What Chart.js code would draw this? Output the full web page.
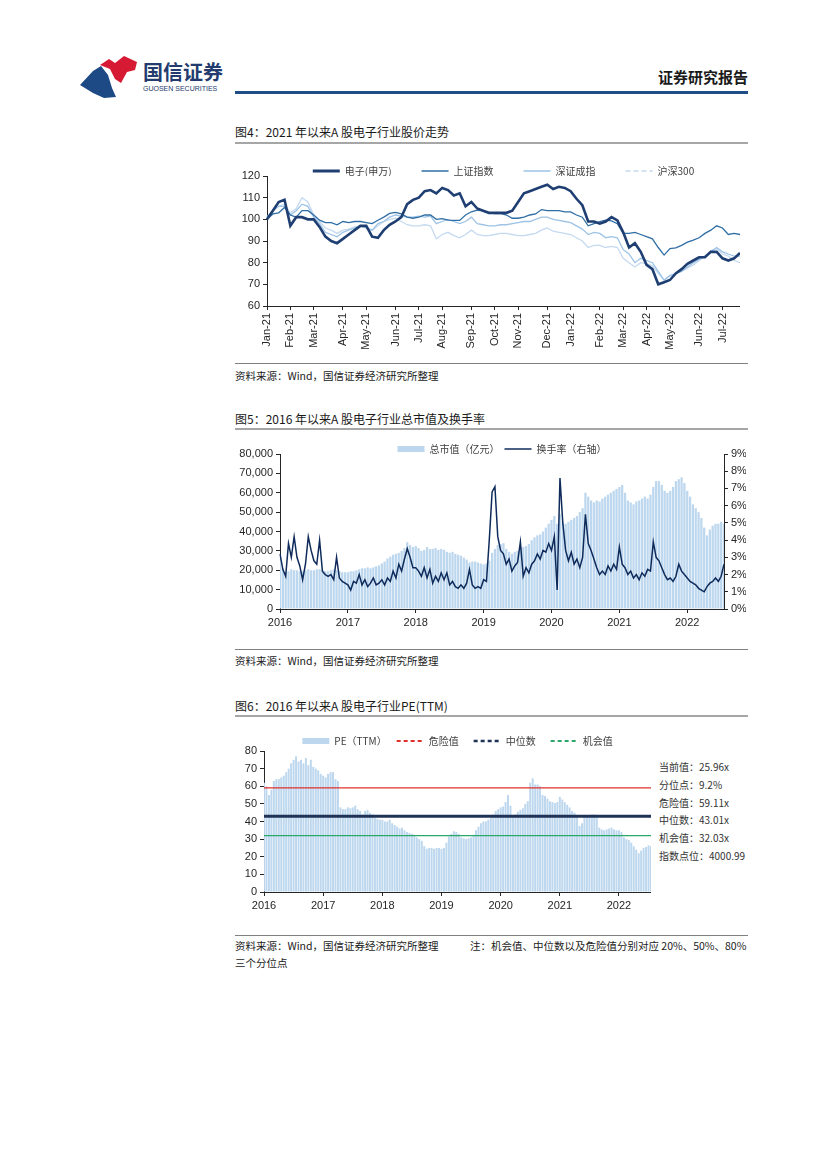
<!DOCTYPE html>
<html>
<head>
<meta charset="utf-8">
<script src="https://cdn.jsdelivr.net/npm/chart.js@4.4.0/dist/chart.umd.min.js"></script>
<style>
body { margin: 0; background: #fff; }
#page { position: relative; width: 827px; height: 1169px; overflow: hidden; background: #fff;
        font-family: "Noto Sans CJK SC", "Noto Sans", sans-serif; color: #1a1a1a; }
.title { position: absolute; left: 235px; font-size: 12px; line-height: 14px; white-space: nowrap; }
.rule { position: absolute; left: 235px; width: 513px; }
.src { position: absolute; left: 235px; font-size: 10.5px; line-height: 12px; white-space: nowrap; }
.note { position: absolute; left: 659px; font-size: 10px; line-height: 12px; color: #333; white-space: nowrap; }
canvas { position: absolute; }
</style>
</head>
<body>
<div id="page">
  <!-- header -->
  <svg style="position:absolute;left:80px;top:56px" width="58" height="42" viewBox="0 0 58 42">
    <path d="M20 9 L29 3 L35 7 L44 0 L57 6 L55 14 L47 16 L41 27 L35 23 L30 13 Z" fill="#d71a34"/>
    <path d="M0 29 L13 15 L21 10 L28 19 L32 32 L36 41 L24 42 L13 37 Z" fill="#1d4a85"/>
  </svg>
  <div style="position:absolute;left:143px;top:60px;font-size:20px;line-height:24px;font-weight:700;color:#233b6e">国信证券</div>
  <div style="position:absolute;left:143px;top:85px;font-size:7px;line-height:8px;color:#233b6e;font-family:'Liberation Sans',sans-serif">GUOSEN SECURITIES</div>
  <div style="position:absolute;right:79px;top:68px;font-size:15px;line-height:18px;font-weight:700;color:#1a1a1a">证券研究报告</div>
  <div class="rule" style="top:91px;height:3px;background:#1f4f86"></div>

  <!-- figure 4 -->
  <div class="title" style="top:125px">图4：2021 年以来A 股电子行业股价走势</div>
  <div class="rule" style="top:142px;height:2px;background:#a6a6a6"></div>
  <canvas id="c4" width="505" height="185" style="left:235px;top:166px"></canvas>
  <div class="rule" style="top:363px;height:1px;background:#808080"></div>
  <div class="src" style="top:370px">资料来源：Wind，国信证券经济研究所整理</div>

  <!-- figure 5 -->
  <div class="title" style="top:412px">图5：2016 年以来A 股电子行业总市值及换手率</div>
  <div class="rule" style="top:428px;height:2px;background:#a6a6a6"></div>
  <canvas id="c5" width="511" height="187" style="left:235px;top:444px"></canvas>
  <div class="rule" style="top:649px;height:1px;background:#808080"></div>
  <div class="src" style="top:655px">资料来源：Wind，国信证券经济研究所整理</div>

  <!-- figure 6 -->
  <div class="title" style="top:699px">图6：2016 年以来A 股电子行业PE(TTM)</div>
  <div class="rule" style="top:715px;height:2px;background:#a6a6a6"></div>
  <canvas id="c6" width="416" height="178" style="left:235px;top:736px"></canvas>
  <div id="notes"></div>
  <div class="rule" style="top:935px;height:1px;background:#808080"></div>
  <div class="src" style="top:940px">资料来源：Wind，国信证券经济研究所整理</div>
  <div class="src" style="top:940px;left:470px">注：机会值、中位数以及危险值分别对应 20%、50%、80%</div>
  <div class="src" style="top:957px">三个分位点</div>
</div>

<script>
// ---- fig 4: weekly index (2021-01-04 = 100)
const electronics = [100, 104, 108, 109, 97, 101, 101, 100, 100, 96.5, 92, 90, 89, 91, 93, 95, 97, 97, 92, 91.5,
  95, 97.5, 99, 101, 107, 109, 110, 113, 113.5, 112, 114.5, 113.5, 111, 112, 106, 108, 105, 104, 103, 103,
  103, 103, 104, 108, 112, 113, 114, 115, 116, 114, 115, 114.5, 113, 109.5, 106.5, 99, 99, 98, 99, 101,
  99.5, 94, 87, 89, 85, 79, 77, 70, 71, 72, 75, 77, 79.5, 81, 82.5, 82.5, 85, 85, 82, 81, 82, 84.5];
const shanghai = [100, 102.5, 103, 105.5, 102, 101, 104, 104, 102, 99.6, 98.5, 98.5, 97.5, 99, 98.5, 99, 99, 98.5, 98, 99.6,
  101, 102.7, 103.2, 102.5, 101, 100.5, 101, 102, 102, 100, 100.3, 99.6, 99.5, 99.5, 102, 103.5, 104.2, 104, 103, 102.7,
  102.7, 102, 100.5, 100.5, 101, 102, 102.5, 104.5, 104, 104, 104, 103.4, 103.4, 102, 101, 97, 98, 99, 99.6, 99.3,
  98, 93.5, 93.5, 94, 93, 92, 91, 87, 83.5, 86.5, 86.8, 88, 89.5, 90.4, 91.5, 93.5, 95, 97, 96, 93, 93.5, 93];
const shenzhen = [101, 104, 106, 106, 102, 104, 107, 106, 101, 98, 94, 93, 92, 94, 95, 96, 97, 96, 95, 98,
  99, 101, 102, 101.5, 101, 101, 101.5, 101, 101.5, 98, 99, 100, 99, 98, 99, 101, 98, 97.5, 97, 97,
  97.5, 97.5, 98, 98.5, 99, 99, 100, 101, 101, 100, 99.5, 99, 98.5, 97, 95.5, 93, 94, 93.5, 91.5, 92,
  91.5, 86, 84, 80, 82, 81, 80, 76, 72, 74, 75, 76, 78, 80, 81.5, 83, 85, 87, 85, 84, 83, 83];
const csi300 = [101, 104, 106, 107, 103, 105, 110, 108, 102, 99, 96, 95, 93.5, 95, 95.5, 96.5, 97, 96, 95, 97,
  99, 100, 100.5, 99, 97.5, 97, 97, 97.5, 97, 91, 93, 94, 92.5, 91.5, 93, 95, 93, 92.5, 92.5, 93,
  93.5, 93.5, 93, 92.5, 92.5, 93, 93.5, 95, 96, 94.5, 94, 93.5, 93, 91.5, 90, 87, 88, 88, 87, 87.5,
  87, 82, 80, 78, 80, 79.5, 78.5, 75, 72, 74, 75, 76, 77.5, 79, 81, 83, 85.5, 86.5, 84, 83, 81, 80];
const stockMonths = ['Jan-21', 'Feb-21', 'Mar-21', 'Apr-21', 'May-21', 'Jun-21', 'Jul-21', 'Aug-21', 'Sep-21', 'Oct-21',
  'Nov-21', 'Dec-21', 'Jan-22', 'Feb-22', 'Mar-22', 'Apr-22', 'May-22', 'Jun-22', 'Jul-22'];

// ---- fig 5: half-monthly, 2016 -> Jul 2022
const years = ['2016', '2017', '2018', '2019', '2020', '2021', '2022'];
const marketCap = [
  26000, 21000, 19000, 19500, 20500, 20000, 20000, 19500, 19500, 20000, 20500, 20000, 20000, 20500, 20500, 20000, 19500, 19500, 20000, 20500, 20000, 19500, 19000, 19000,
  19000, 19500, 19500, 20000, 20500, 21000, 21000, 21500, 21000, 21500, 22000, 22500, 23500, 24500, 26000, 27000, 28000, 28500, 29000, 30000, 31500, 34500, 33000, 32000,
  32500, 31500, 30000, 30500, 32000, 31000, 31000, 31500, 30500, 31000, 30500, 29500, 29000, 29500, 28500, 28000, 27500, 26500, 25500, 24000, 24500, 24500, 24000, 23500,
  23000, 23500, 25000, 29000, 31000, 33000, 33500, 34000, 31000, 29500, 28500, 29500, 30000, 31000, 32000, 32500, 33500, 35500, 37000, 38000, 38500, 40000, 42000, 44000,
  46000, 48000, 44000, 49000, 45000, 44000, 45000, 46000, 47000, 48000, 50000, 52000, 60000, 58000, 56000, 55000, 56000, 55500, 57000, 58000, 59000, 60000, 61000, 62000,
  63000, 64000, 60000, 56000, 55000, 54000, 55500, 56000, 57000, 58000, 57000, 59000, 63000, 66000, 66000, 64000, 61000, 60000, 61000, 63000, 66000, 67000, 68000, 65000,
  61000, 58000, 54000, 52000, 50000, 47000, 42000, 38000, 41000, 43000, 44000, 44000, 45000, 44000];
const turnover = [
  3.2, 2.3, 1.9, 3.8, 3.0, 4.2, 3.0, 2.5, 1.7, 2.6, 4.2, 3.4, 2.8, 2.6, 4.0, 2.2, 2.0, 1.9, 2.0, 1.7, 3.0, 1.8, 1.6, 1.5,
  1.4, 1.1, 1.6, 1.5, 2.0, 1.4, 1.7, 1.3, 1.5, 1.8, 1.4, 1.5, 1.7, 1.4, 1.8, 1.6, 2.2, 1.8, 2.6, 2.2, 2.9, 3.5, 3.0, 2.4,
  2.4, 2.2, 1.9, 2.4, 1.8, 2.3, 1.5, 1.9, 1.6, 2.1, 1.7, 2.1, 1.4, 1.6, 1.3, 1.2, 1.4, 1.2, 1.5, 2.3, 1.4, 1.2, 1.3, 1.2,
  1.7, 1.6, 4.0, 6.8, 7.1, 4.2, 3.4, 3.2, 2.6, 2.9, 2.2, 2.5, 2.7, 3.9, 1.9, 2.4, 2.1, 2.6, 2.8, 3.2, 2.9, 3.4, 3.3, 3.8,
  3.4, 4.2, 1.1, 7.6, 5.0, 3.4, 2.8, 3.3, 2.6, 2.9, 2.4, 3.0, 5.5, 3.8, 3.4, 2.9, 2.4, 2.0, 2.2, 2.0, 2.5, 2.2, 2.6, 2.3,
  3.6, 2.6, 2.4, 2.0, 2.2, 1.8, 2.0, 1.7, 2.1, 1.9, 2.3, 2.2, 3.9, 3.0, 2.8, 2.4, 2.0, 1.7, 1.8, 1.6, 1.9, 2.6, 2.2, 2.0,
  1.8, 1.6, 1.5, 1.4, 1.2, 1.1, 1.0, 1.3, 1.5, 1.6, 1.8, 1.6, 1.9, 2.6];

// ---- fig 6: PE(TTM), half-monthly
const peValues = [
  62, 60, 55, 58, 63, 64, 64, 65, 66, 68, 70, 73, 75, 77, 74, 75, 73, 76, 72, 75, 71, 70, 69, 67,
  66, 65, 67, 68, 68, 64, 63, 48, 47, 47, 48, 47.5, 48, 49, 47, 46, 44, 46, 46.5, 45, 44, 42, 41.5, 41,
  41, 40, 40, 41, 39, 38, 37, 36, 36.5, 35, 34, 33.5, 33, 32.5, 31, 30, 29, 26, 24.5, 25, 25, 24.5, 25, 25,
  24.5, 25, 28, 31.5, 33, 34.5, 34, 33, 31, 30.5, 30, 30.5, 31, 32.5, 35, 37, 39, 40, 40, 41, 42, 44, 46, 47,
  48, 48.5, 51, 55, 49, 43, 44, 45.5, 46.5, 47.5, 50, 51.5, 62, 64.5, 61, 61, 60, 55, 54.5, 53, 51.5, 51, 50.5, 51,
  54, 52.5, 51, 49.5, 48, 46, 45, 43.5, 37.5, 39, 43, 43.5, 43, 44, 44, 43, 36.5, 35.5, 35, 35.5, 36, 36.5, 35.5, 35,
  35, 34, 31, 30, 29.5, 28, 26, 24, 22, 23.5, 25, 25.5, 26.5, 26];
const dangerPE = 59.11;
const medianPE = 43.01;
const chancePE = 32.03;
const currentPE = 25.96;
const percentile = '9.2%';
const indexLevel = '4000.99';

// ---------- labels
const stockWeeks = [];
const start = Date.UTC(2021, 0, 4);
for (let i = 0; i < electronics.length; i++) {
  stockWeeks.push(new Date(start + i * 7 * 86400000).toISOString().slice(0, 10));
}
const monthStarts = stockWeeks
  .map((w, i) => (i === 0 || w.slice(0, 7) !== stockWeeks[i - 1].slice(0, 7)) ? i : -1)
  .filter(i => i >= 0);

const periods = [];
years.forEach(y => {
  for (let m = 1; m <= 12; m++) {
    const mm = String(m).padStart(2, '0');
    periods.push(y + '-' + mm + 'a', y + '-' + mm + 'b');
  }
});
const capLabels = periods.slice(0, marketCap.length);
const peLabels = periods.slice(0, peValues.length);
const yearStarts = capLabels.map((p, i) => p.endsWith('-01a') ? i : -1).filter(i => i >= 0);

// ---------- shared styling
const cjk = '"Noto Sans CJK SC", "Noto Sans", sans-serif';
const tickFont = { family: '"Liberation Sans", Arial, sans-serif', size: 11 };
const ink = '#262626';
const barBlue = '#bdd7ee';
const navy = '#0f2b5b';

const axis = (extra) => Object.assign({
  border: { display: true, color: ink, width: 1 },
  grid: { display: true, drawOnChartArea: false, drawTicks: true, tickLength: 4, color: ink, offset: false },
}, extra);

const legendOpts = (styles, gap, maxHeight) => ({
  position: 'top',
  fullSize: false,
  maxHeight: maxHeight,
  labels: {
    usePointStyle: true,
    pointStyleWidth: 27,
    boxHeight: 6,
    padding: 0,
    color: '#404040',
    font: { family: cjk, size: 10 },
    generateLabels: chart => Chart.defaults.plugins.legend.labels.generateLabels(chart)
      .sort((a, b) => a.datasetIndex - b.datasetIndex)
      .map((item, i, arr) => Object.assign(item, styles[i], { text: item.text + (i < arr.length - 1 ? gap : '') }))
  }
});

const base = {
  responsive: false,
  animation: false,
  devicePixelRatio: 1,
  layout: { padding: 0 },
  elements: { point: { radius: 0 }, line: { tension: 0 } },
};

// ---------- fig 4
new Chart(document.getElementById('c4'), {
  type: 'line',
  data: {
    labels: stockWeeks,
    datasets: [
      { label: '电子(申万)', data: electronics, borderColor: '#1f3f73', borderWidth: 2.6 },
      { label: '上证指数', data: shanghai, borderColor: '#2f6ea5', borderWidth: 1.3 },
      { label: '深证成指', data: shenzhen, borderColor: '#9dc3e6', borderWidth: 1.3 },
      { label: '沪深300', data: csi300, borderColor: '#c5d9f0', borderWidth: 1.3 },
    ]
  },
  options: Object.assign({}, base, {
    plugins: {
      tooltip: { enabled: false },
      legend: legendOpts([
        { pointStyle: 'line', lineWidth: 3, strokeStyle: '#1f3f73', lineDash: [] },
        { pointStyle: 'line', lineWidth: 1.5, strokeStyle: '#2f6ea5', lineDash: [] },
        { pointStyle: 'line', lineWidth: 1.5, strokeStyle: '#9dc3e6', lineDash: [] },
        { pointStyle: 'line', lineWidth: 1.5, strokeStyle: '#c5d9f0', lineDash: [5, 3] },
      ], '\u3000\u3000\u3000', 10)
    },
    scales: {
      x: axis({
        afterBuildTicks: a => { a.ticks = a.ticks.filter(t => monthStarts.includes(t.value)); },
        afterFit: s => { s.height = 45; },
        ticks: { autoSkip: false, minRotation: 90, maxRotation: 90, color: ink, font: tickFont, padding: 3,
                 callback: v => stockMonths[monthStarts.indexOf(v)] }
      }),
      y: axis({
        min: 60, max: 120,
        afterFit: s => { s.width = 32; },
        ticks: { stepSize: 10, color: ink, font: tickFont, padding: 3 }
      })
    }
  })
});

// ---------- fig 5
new Chart(document.getElementById('c5'), {
  type: 'bar',
  data: {
    labels: capLabels,
    datasets: [
      { label: '总市值（亿元）', data: marketCap, backgroundColor: barBlue, borderWidth: 0,
        categoryPercentage: 0.8, barPercentage: 1, order: 2, yAxisID: 'y' },
      { type: 'line', label: '换手率（右轴）', data: turnover, borderColor: navy, borderWidth: 1.5,
        order: 1, yAxisID: 'y1' },
    ]
  },
  options: Object.assign({}, base, {
    plugins: {
      tooltip: { enabled: false },
      legend: legendOpts([
        { pointStyle: 'rect', fillStyle: barBlue, lineWidth: 0 },
        { pointStyle: 'line', lineWidth: 1.5, strokeStyle: navy, lineDash: [] },
      ], '\u2002', 10)
    },
    scales: {
      x: axis({
        offset: false,
        afterBuildTicks: a => { a.ticks = a.ticks.filter(t => yearStarts.includes(t.value)); },
        afterFit: s => { s.height = 22; },
        ticks: { autoSkip: false, maxRotation: 0, color: ink, font: tickFont, padding: 3,
                 callback: v => years[yearStarts.indexOf(v)] }
      }),
      y: axis({
        position: 'left', min: 0, max: 80000,
        afterFit: s => { s.width = 45; },
        ticks: { stepSize: 10000, color: ink, font: tickFont, padding: 3,
                 callback: v => v.toLocaleString('en-US') }
      }),
      y1: axis({
        position: 'right', min: 0, max: 9,
        afterFit: s => { s.width = 22; },
        ticks: { stepSize: 1, color: ink, font: tickFont, padding: 3, callback: v => v + '%' }
      })
    }
  })
});

// ---------- fig 6
const firstP = peLabels[0], lastP = peLabels[peLabels.length - 1];
const flat = v => [{ x: firstP, y: v }, { x: lastP, y: v }];
new Chart(document.getElementById('c6'), {
  type: 'bar',
  data: {
    labels: peLabels,
    datasets: [
      { label: 'PE（TTM）', data: peValues, backgroundColor: barBlue, borderWidth: 0,
        categoryPercentage: 0.8, barPercentage: 1, order: 4 },
      { type: 'line', label: '危险值', data: flat(dangerPE), borderColor: '#e0302c', borderWidth: 1.3, order: 1 },
      { type: 'line', label: '中位数', data: flat(medianPE), borderColor: '#1f3357', borderWidth: 3, order: 2 },
      { type: 'line', label: '机会值', data: flat(chancePE), borderColor: '#2aa86a', borderWidth: 1.3, order: 3 },
    ]
  },
  options: Object.assign({}, base, {
    plugins: {
      tooltip: { enabled: false },
      legend: legendOpts([
        { pointStyle: 'rect', fillStyle: barBlue, lineWidth: 0 },
        { pointStyle: 'line', lineWidth: 2, strokeStyle: '#e0302c', lineDash: [4, 3] },
        { pointStyle: 'line', lineWidth: 2.5, strokeStyle: '#1f3357', lineDash: [4, 3] },
        { pointStyle: 'line', lineWidth: 2, strokeStyle: '#2aa86a', lineDash: [4, 3] },
      ], '\u3000\u2002', 15)
    },
    scales: {
      x: axis({
        offset: false,
        afterBuildTicks: a => { a.ticks = a.ticks.filter(t => yearStarts.includes(t.value)); },
        afterFit: s => { s.height = 22; },
        ticks: { autoSkip: false, maxRotation: 0, color: ink, font: tickFont, padding: 3,
                 callback: v => years[yearStarts.indexOf(v)] }
      }),
      y: axis({
        min: 0, max: 80,
        afterFit: s => { s.width = 29; },
        ticks: { stepSize: 10, color: ink, font: tickFont, padding: 3 }
      })
    }
  })
});

// side notes of fig 6
const notes = [
  '当前值：' + currentPE.toFixed(2) + 'x',
  '分位点：' + percentile,
  '危险值：' + dangerPE.toFixed(2) + 'x',
  '中位数：' + medianPE.toFixed(2) + 'x',
  '机会值：' + chancePE.toFixed(2) + 'x',
  '指数点位：' + indexLevel,
];
const notesBox = document.getElementById('notes');
notes.forEach((t, i) => {
  const el = document.createElement('div');
  el.className = 'note';
  el.style.top = (761 + i * 17.8) + 'px';
  el.textContent = t;
  notesBox.appendChild(el);
});
</script>
</body>
</html>
